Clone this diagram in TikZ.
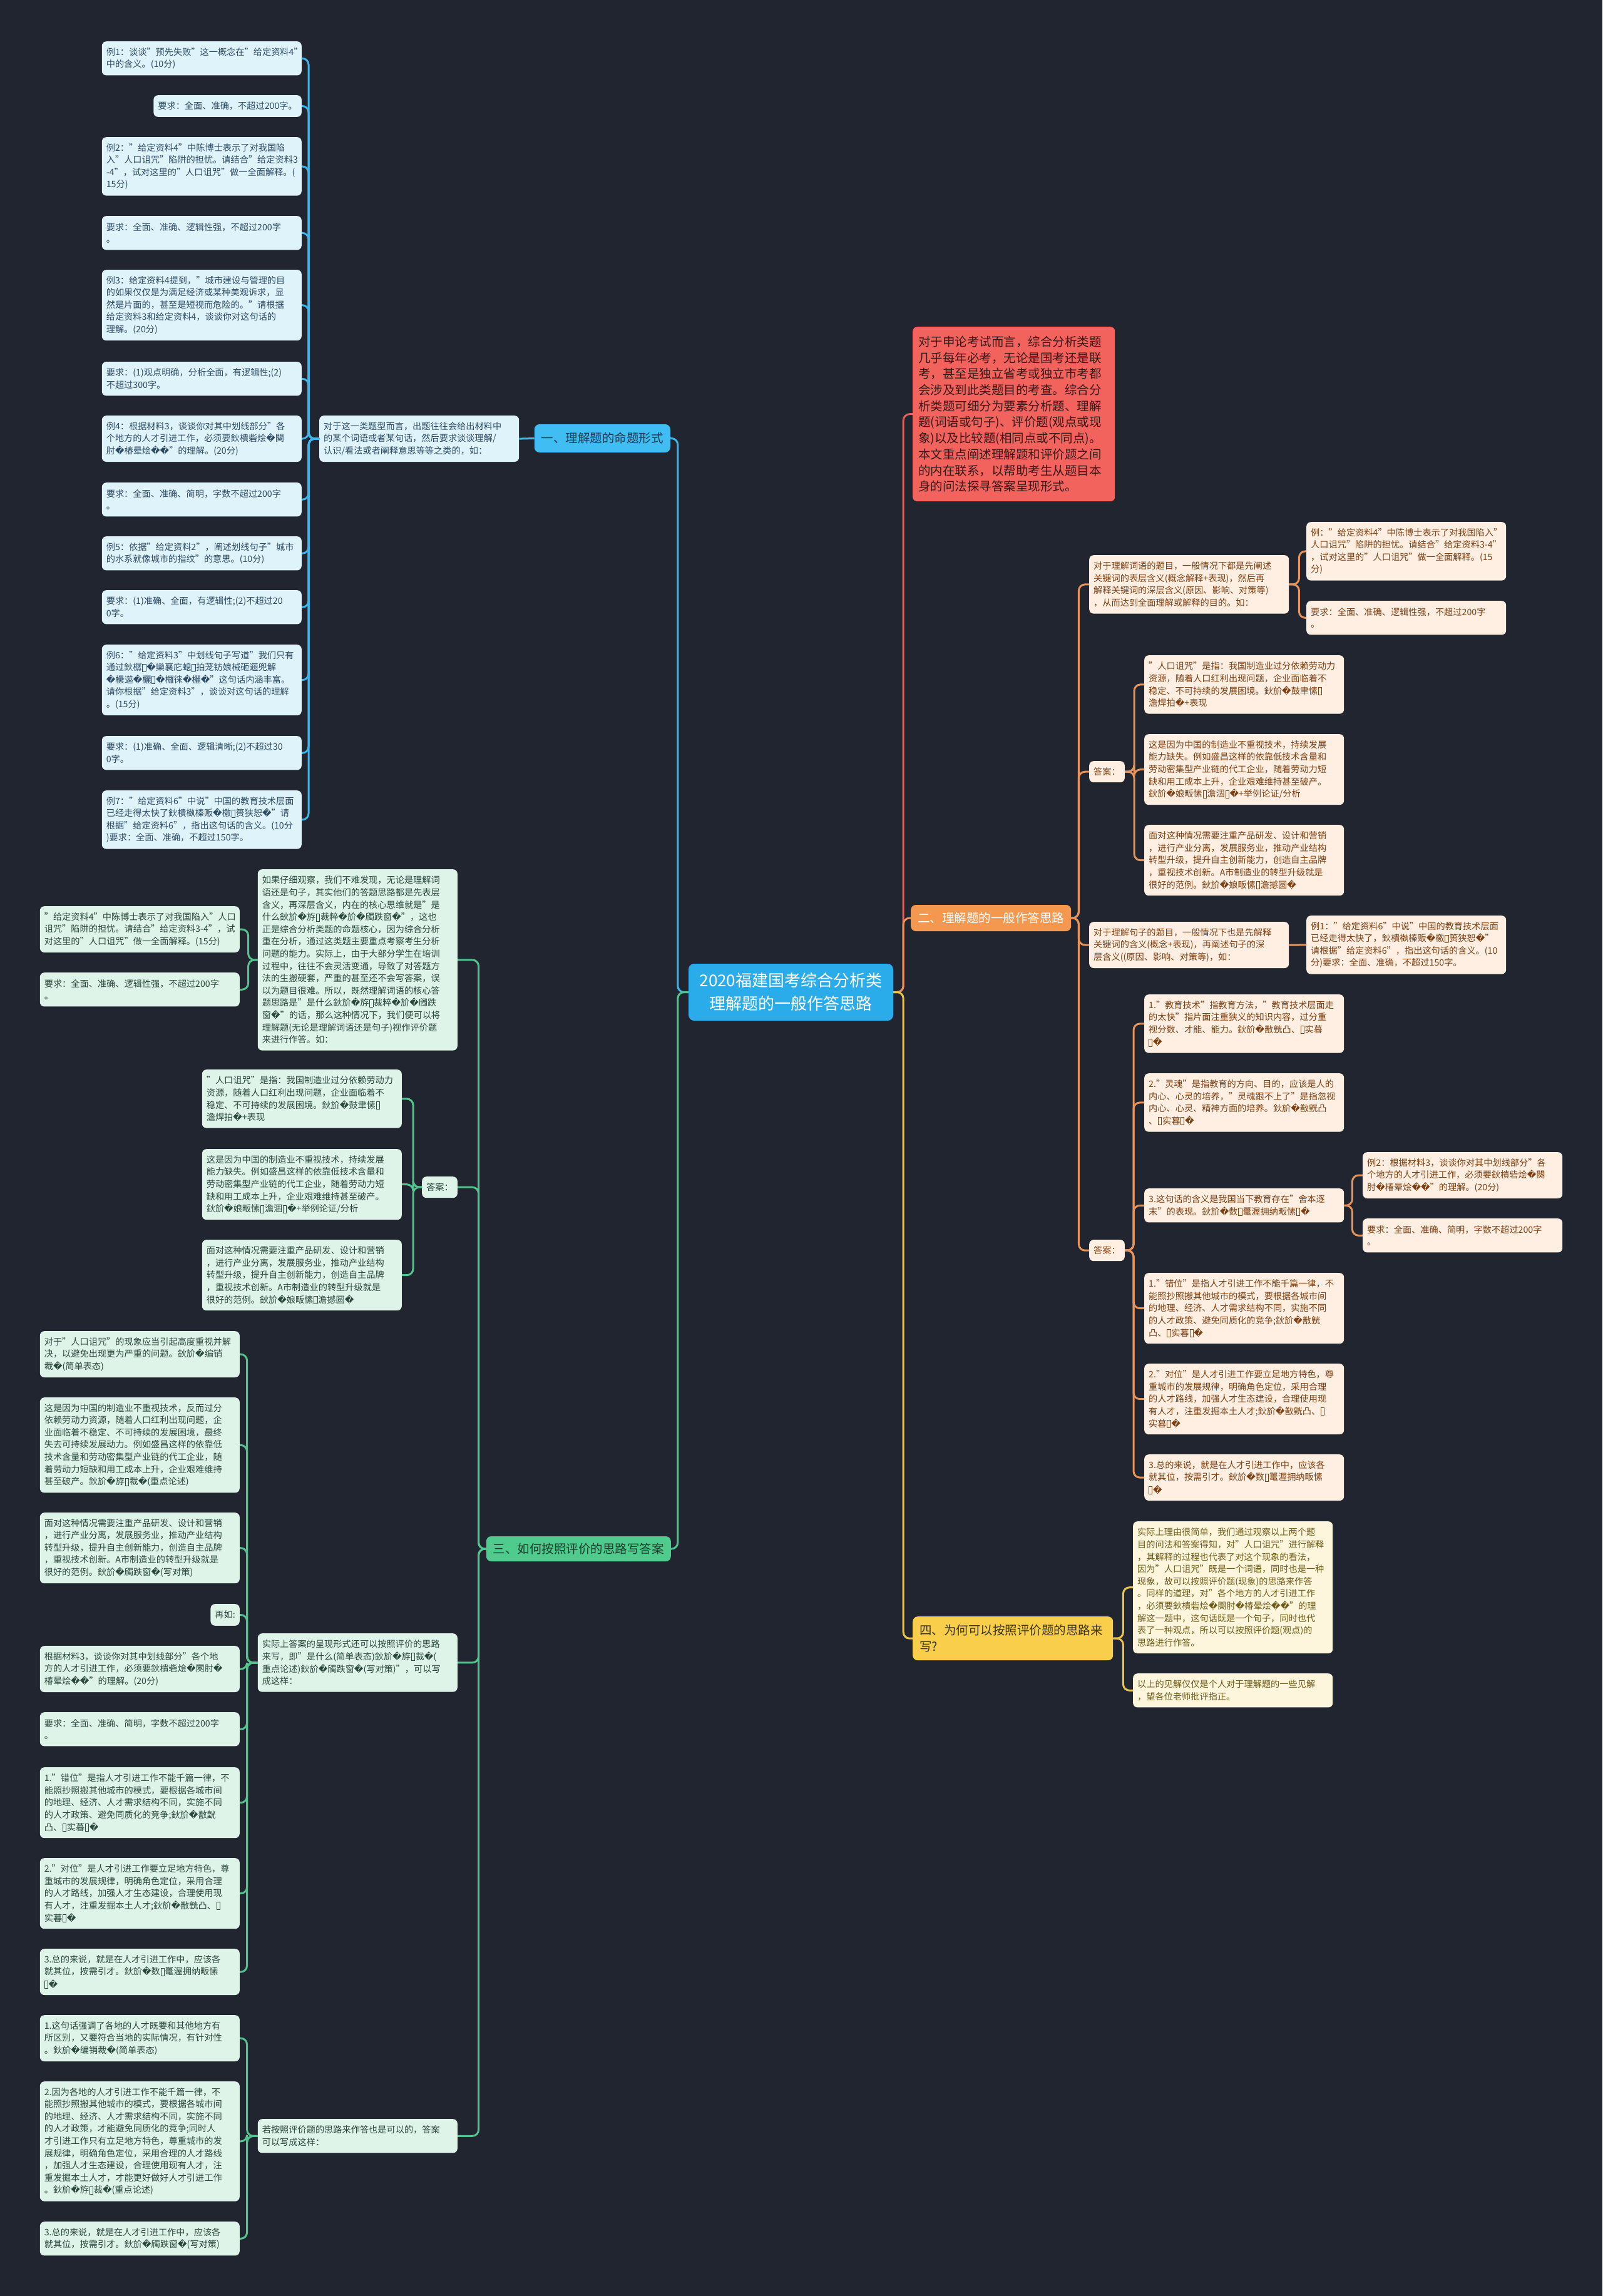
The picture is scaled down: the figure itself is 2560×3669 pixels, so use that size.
\documentclass[tikz,border=0pt]{standalone}
\usepackage{fontspec}
\setmainfont{Noto Sans CJK SC}
\newfontfamily\dejavu{DejaVu Sans}
\newcommand\rp{{\dejavu\symbol{"FFFD}}}
\newcommand\tf{\kern0.06em\raisebox{-0.06em}{\fboxsep=0pt\fboxrule=0.06em\fbox{\rule{0pt}{0.78em}\rule{0.3em}{0pt}}}\kern0.06em}
\definecolor{bg}{HTML}{21252F}
\definecolor{bleaf}{HTML}{DFF3FB}\definecolor{btext}{HTML}{2C4A63}
\definecolor{bbr}{HTML}{40BEF3}\definecolor{bbrt}{HTML}{1E3A52}
\definecolor{cfill}{HTML}{2AABEA}
\definecolor{gleaf}{HTML}{DEF4E9}\definecolor{gtext}{HTML}{29473A}
\definecolor{gbr}{HTML}{4ECB8D}\definecolor{gbrt}{HTML}{1B3D2B}
\definecolor{oleaf}{HTML}{FEEFE2}\definecolor{otext}{HTML}{7B3F12}
\definecolor{obr}{HTML}{F49850}
\definecolor{rbr}{HTML}{F3635E}\definecolor{rbrt}{HTML}{3A1717}
\definecolor{ybr}{HTML}{F8CE4A}\definecolor{ybrt}{HTML}{3A3216}
\definecolor{yleaf}{HTML}{FDF6DC}\definecolor{ytext}{HTML}{6E5B17}
\definecolor{lblue}{HTML}{3DB6EC}\definecolor{lgreen}{HTML}{52C48E}
\definecolor{lorange}{HTML}{E8935A}\definecolor{lred}{HTML}{E7605B}
\definecolor{lyellow}{HTML}{E9C64A}
\tikzset{
  base/.style={rounded corners=7pt, inner xsep=7pt, inner ysep=3pt, align=left,
    font=\fontsize{14.2}{19.6}\selectfont},
  lb/.style={base, fill=bleaf, text=btext},
  lg/.style={base, fill=gleaf, text=gtext},
  lo/.style={base, fill=oleaf, text=otext},
  ly/.style={base, fill=yleaf, text=ytext},
  tw/.style={text width=305pt},
  nl/.style={minimum height=19.6*#1+15},
  ans/.style={minimum height=34},
  brn/.style={rounded corners=8pt, inner xsep=11pt, inner ysep=3pt, minimum height=45,
    font=\fontsize{19.5}{26}\selectfont},
  cb/.style={draw=lblue, line width=3pt, rounded corners=10pt},
  cg/.style={draw=lgreen, line width=3pt, rounded corners=10pt},
  co/.style={draw=lorange, line width=3pt, rounded corners=10pt},
  cr/.style={draw=lred, line width=3pt, rounded corners=10pt},
  cy/.style={draw=lyellow, line width=3pt, rounded corners=10pt},
}
\begin{document}
\begin{tikzpicture}[x=1pt,y=-1pt]
\useasboundingbox (0,0) rectangle (2560,3669);
\fill[bg] (0,0) rectangle (2560,3669);

% ---------- center ----------
\node[fill=cfill, text=white, rounded corners=9pt, minimum width=327, minimum height=91,
  align=center, font=\fontsize{26}{37}\selectfont] (C) at (1263.5,1585.5)
  {2020福建国考综合分析类\\理解题的一般作答思路};

% ---------- branch 1 (blue, left) ----------
\node[brn, fill=bbr, text=bbrt, anchor=east] (B1) at (1071,700.5) {一、理解题的命题形式};
\node[lb, tw, nl=3, anchor=north west] (P1) at (510,664) {对于这一类题型而言，出题往往会给出材料中\\的某个词语或者某句话，然后要求谈谈理解/\\认识/看法或者阐释意思等等之类的，如：};

\node[lb, tw, nl=2, anchor=north east] (L1) at (482,66) {例1：谈谈"预先失败"这一概念在"给定资料4"\\中的含义。(10分)};
\node[lb, nl=1, anchor=north east] (L2) at (482,152) {要求：全面、准确，不超过200字。};
\node[lb, tw, nl=4, anchor=north east] (L3) at (482,219) {例2："给定资料4"中陈博士表示了对我国陷\\入"人口诅咒"陷阱的担忧。请结合"给定资料3\\-4"，试对这里的"人口诅咒"做一全面解释。(\\15分)};
\node[lb, tw, nl=2, anchor=north east] (L4) at (482,345) {要求：全面、准确、逻辑性强，不超过200字\\。};
\node[lb, tw, nl=5, anchor=north east] (L5) at (482,431) {例3：给定资料4提到，"城市建设与管理的目\\的如果仅仅是为满足经济或某种美观诉求，显\\然是片面的，甚至是短视而危险的。"请根据\\给定资料3和给定资料4，谈谈你对这句话的\\理解。(20分)};
\node[lb, tw, nl=2, anchor=north east] (L6) at (482,578) {要求：(1)观点明确，分析全面，有逻辑性;(2)\\不超过300字。};
\node[lb, tw, nl=3, anchor=north east] (L7) at (482,664) {例4：根据材料3，谈谈你对其中划线部分"各\\个地方的人才引进工作，必须要鈥樻砦烩\rp 闋\\肘\rp 椿晕烩\rp\rp "的理解。(20分)};
\node[lb, tw, nl=2, anchor=north east] (L8) at (482,771) {要求：全面、准确、简明，字数不超过200字\\。};
\node[lb, tw, nl=2, anchor=north east] (L9) at (482,857) {例5：依据"给定资料2"，阐述划线句子"城市\\的水系就像城市的指纹"的意思。(10分)};
\node[lb, tw, nl=2, anchor=north east] (L10) at (482,943) {要求：(1)准确、全面，有逻辑性;(2)不超过20\\0字。};
\node[lb, tw, nl=5, anchor=north east] (L11) at (482,1030) {例6："给定资料3"中划线句子写道"我们只有\\通过鈥樼\tf\rp 欒襄庀螅\tf 拍茏钫娘械砸逦兜解\\\rp 欙遾\rp 欐\tf\rp 欏徕\rp 欐\rp "这句话内涵丰富。\\请你根据"给定资料3"，谈谈对这句话的理解\\。(15分)};
\node[lb, tw, nl=2, anchor=north east] (L12) at (482,1176) {要求：(1)准确、全面、逻辑清晰;(2)不超过30\\0字。};
\node[lb, tw, nl=4, anchor=north east] (L13) at (482,1263) {例7："给定资料6"中说"中国的教育技术层面\\已经走得太快了鈥樻槸榛贩\rp 檄\tf 篑狭恕\rp "请\\根据"给定资料6"，指出这句话的含义。(10分\\)要求：全面、准确，不超过150字。};

% ---------- branch 3 (green, left) ----------
\node[brn, fill=gbr, text=gbrt, minimum height=40, anchor=east] (B3) at (1072,2475) {三、如何按照评价的思路写答案};

\node[lg, tw, nl=14, anchor=north east] (P2) at (731,1389) {如果仔细观察，我们不难发现，无论是理解词\\语还是句子，其实他们的答题思路都是先表层\\含义，再深层含义，内在的核心思维就是"是\\什么鈥斺\rp 斿\tf 裁粹\rp 斺\rp 斶跌窗\rp "，这也\\正是综合分析类题的命题核心，因为综合分析\\重在分析，通过这类题主要重点考察考生分析\\问题的能力。实际上，由于大部分学生在培训\\过程中，往往不会灵活变通，导致了对答题方\\法的生搬硬套，严重的甚至还不会写答案，误\\以为题目很难。所以，既然理解词语的核心答\\题思路是"是什么鈥斺\rp 斿\tf 裁粹\rp 斺\rp 斶跌\\窗\rp "的话，那么这种情况下，我们便可以将\\理解题(无论是理解词语还是句子)视作评价题\\来进行作答。如：};
\node[lg, tw, nl=3, anchor=north east] (Q1) at (383,1448) {"给定资料4"中陈博士表示了对我国陷入"人口\\诅咒"陷阱的担忧。请结合"给定资料3-4"，试\\对这里的"人口诅咒"做一全面解释。(15分)};
\node[lg, tw, nl=2, anchor=north east] (Q2) at (383,1554) {要求：全面、准确、逻辑性强，不超过200字\\。};

\node[lg, ans, anchor=north east] (AL) at (731,1880) {答案：};
\node[lg, tw, nl=4, anchor=north east] (A1) at (642,1709) {"人口诅咒"是指：我国制造业过分依赖劳动力\\资源，随着人口红利出现问题，企业面临着不\\稳定、不可持续的发展困境。鈥斺\rp 鼓聿愫\tf\\澹焊拍\rp +表现};
\node[lg, tw, nl=5, anchor=north east] (A2) at (642,1836) {这是因为中国的制造业不重视技术，持续发展\\能力缺失。例如盛昌这样的依靠低技术含量和\\劳动密集型产业链的代工企业，随着劳动力短\\缺和用工成本上升，企业艰难维持甚至破产。\\鈥斺\rp 娘畈愫\tf 澹涸\tf\rp +举例论证/分析};
\node[lg, tw, nl=5, anchor=north east] (A3) at (642,1981) {面对这种情况需要注重产品研发、设计和营销\\，进行产业分离，发展服务业，推动产业结构\\转型升级，提升自主创新能力，创造自主品牌\\，重视技术创新。A市制造业的转型升级就是\\很好的范例。鈥斺\rp 娘畈愫\tf 澹撼圆\rp};

\node[lg, tw, nl=4, anchor=north east] (P3) at (731,2610) {实际上答案的呈现形式还可以按照评价的思路\\来写，即"是什么(简单表态)鈥斺\rp 斿\tf 裁\rp (\\重点论述)鈥斺\rp 斶跌窗\rp (写对策)"，可以写\\成这样：};
\node[lg, tw, nl=3, anchor=north east] (G1) at (383,2127) {对于"人口诅咒"的现象应当引起高度重视并解\\决，以避免出现更为严重的问题。鈥斺\rp 编销\\裁\rp (简单表态)};
\node[lg, tw, nl=7, anchor=north east] (G2) at (383,2233) {这是因为中国的制造业不重视技术，反而过分\\依赖劳动力资源，随着人口红利出现问题，企\\业面临着不稳定、不可持续的发展困境，最终\\失去可持续发展动力。例如盛昌这样的依靠低\\技术含量和劳动密集型产业链的代工企业，随\\着劳动力短缺和用工成本上升，企业艰难维持\\甚至破产。鈥斺\rp 斿\tf 裁\rp (重点论述)};
\node[lg, tw, nl=5, anchor=north east] (G3) at (383,2417) {面对这种情况需要注重产品研发、设计和营销\\，进行产业分离，发展服务业，推动产业结构\\转型升级，提升自主创新能力，创造自主品牌\\，重视技术创新。A市制造业的转型升级就是\\很好的范例。鈥斺\rp 斶跌窗\rp (写对策)};
\node[lg, nl=1, anchor=north east] (G4) at (383,2563) {再如:};
\node[lg, tw, nl=3, anchor=north east] (G5) at (383,2630) {根据材料3，谈谈你对其中划线部分"各个地\\方的人才引进工作，必须要鈥樻砦烩\rp 闋肘\rp\\椿晕烩\rp\rp "的理解。(20分)};
\node[lg, tw, nl=2, anchor=north east] (G6) at (383,2736) {要求：全面、准确、简明，字数不超过200字\\。};
\node[lg, tw, nl=5, anchor=north east] (G7) at (383,2824) {1."错位"是指人才引进工作不能千篇一律，不\\能照抄照搬其他城市的模式，要根据各城市间\\的地理、经济、人才需求结构不同，实施不同\\的人才政策、避免同质化的竞争;鈥斺\rp 敾皝\\凸、\tf 实暮\tf\rp};
\node[lg, tw, nl=5, anchor=north east] (G8) at (383,2969) {2."对位"是人才引进工作要立足地方特色，尊\\重城市的发展规律，明确角色定位，采用合理\\的人才路线，加强人才生态建设，合理使用现\\有人才，注重发掘本土人才;鈥斺\rp 敾皝凸、\tf\\实暮\tf\rp};
\node[lg, tw, nl=3, anchor=north east] (G9) at (383,3114) {3.总的来说，就是在人才引进工作中，应该各\\就其位，按需引才。鈥斺\rp 数\tf 鼍渥拥纳畈愫\\\tf\rp};

\node[lg, tw, nl=2, anchor=north east] (P4) at (731,3386) {若按照评价题的思路来作答也是可以的，答案\\可以写成这样：};
\node[lg, tw, nl=3, anchor=north east] (K1) at (383,3220) {1.这句话强调了各地的人才既要和其他地方有\\所区别，又要符合当地的实际情况，有针对性\\。鈥斺\rp 编销裁\rp (简单表态)};
\node[lg, tw, nl=9, anchor=north east] (K2) at (383,3326) {2.因为各地的人才引进工作不能千篇一律，不\\能照抄照搬其他城市的模式，要根据各城市间\\的地理、经济、人才需求结构不同，实施不同\\的人才政策，才能避免同质化的竞争;同时人\\才引进工作只有立足地方特色，尊重城市的发\\展规律，明确角色定位，采用合理的人才路线\\，加强人才生态建设，合理使用现有人才，注\\重发掘本土人才，才能更好做好人才引进工作\\。鈥斺\rp 斿\tf 裁\rp (重点论述)};
\node[lg, tw, nl=2, anchor=north east] (K3) at (383,3550) {3.总的来说，就是在人才引进工作中，应该各\\就其位，按需引才。鈥斺\rp 斶跌窗\rp (写对策)};

% ---------- red ----------
\node[fill=rbr, text=rbrt, rounded corners=7pt, inner xsep=9pt, inner ysep=3pt, text width=305pt,
  minimum height=279, align=left, font=\fontsize{19.5}{25.7}\selectfont, anchor=north west] (RD) at (1458,522)
  {对于申论考试而言，综合分析类题\\几乎每年必考，无论是国考还是联\\考，甚至是独立省考或独立市考都\\会涉及到此类题目的考查。综合分\\析类题可细分为要素分析题、理解\\题(词语或句子)、评价题(观点或现\\象)以及比较题(相同点或不同点)。\\本文重点阐述理解题和评价题之间\\的内在联系，以帮助考生从题目本\\身的问法探寻答案呈现形式。};

% ---------- branch 2 (orange, right) ----------
\node[brn, fill=obr, text=white, minimum height=42, anchor=west] (B2) at (1455,1467) {二、理解题的一般作答思路};

\node[lo, tw, nl=4, anchor=north west] (R1) at (1740,887) {对于理解词语的题目，一般情况下都是先阐述\\关键词的表层含义(概念解释+表现)，然后再\\解释关键词的深层含义(原因、影响、对策等)\\，从而达到全面理解或解释的目的。如：};
\node[lo, tw, nl=4, anchor=north west] (R1a) at (2087,834) {例："给定资料4"中陈博士表示了对我国陷入"\\人口诅咒"陷阱的担忧。请结合"给定资料3-4"\\，试对这里的"人口诅咒"做一全面解释。(15\\分)};
\node[lo, tw, nl=2, anchor=north west] (R1b) at (2087,960) {要求：全面、准确、逻辑性强，不超过200字\\。};

\node[lo, ans, anchor=north west] (R2) at (1740,1216) {答案：};
\node[lo, tw, nl=4, anchor=north west] (R2a) at (1828,1047) {"人口诅咒"是指：我国制造业过分依赖劳动力\\资源，随着人口红利出现问题，企业面临着不\\稳定、不可持续的发展困境。鈥斺\rp 鼓聿愫\tf\\澹焊拍\rp +表现};
\node[lo, tw, nl=5, anchor=north west] (R2b) at (1828,1173) {这是因为中国的制造业不重视技术，持续发展\\能力缺失。例如盛昌这样的依靠低技术含量和\\劳动密集型产业链的代工企业，随着劳动力短\\缺和用工成本上升，企业艰难维持甚至破产。\\鈥斺\rp 娘畈愫\tf 澹涸\tf\rp +举例论证/分析};
\node[lo, tw, nl=5, anchor=north west] (R2c) at (1828,1318) {面对这种情况需要注重产品研发、设计和营销\\，进行产业分离，发展服务业，推动产业结构\\转型升级，提升自主创新能力，创造自主品牌\\，重视技术创新。A市制造业的转型升级就是\\很好的范例。鈥斺\rp 娘畈愫\tf 澹撼圆\rp};

\node[lo, tw, nl=3, anchor=north west] (R3) at (1740,1473) {对于理解句子的题目，一般情况下也是先解释\\关键词的含义(概念+表现)，再阐述句子的深\\层含义((原因、影响、对策等)，如：};
\node[lo, tw, nl=4, anchor=north west] (R3a) at (2087,1463) {例1："给定资料6"中说"中国的教育技术层面\\已经走得太快了，鈥樻槸榛贩\rp 檄\tf 篑狭恕\rp "\\请根据"给定资料6"，指出这句话的含义。(10\\分)要求：全面、准确，不超过150字。};

\node[lo, ans, anchor=north west] (R4) at (1740,1981) {答案：};
\node[lo, tw, nl=4, anchor=north west] (R4a) at (1828,1589) {1."教育技术"指教育方法，"教育技术层面走\\的太快"指片面注重狭义的知识内容，过分重\\视分数、才能、能力。鈥斺\rp 敾皝凸、\tf 实暮\\\tf\rp};
\node[lo, tw, nl=4, anchor=north west] (R4b) at (1828,1715) {2."灵魂"是指教育的方向、目的，应该是人的\\内心、心灵的培养，"灵魂跟不上了"是指忽视\\内心、心灵、精神方面的培养。鈥斺\rp 敾皝凸\\、\tf 实暮\tf\rp};
\node[lo, tw, nl=2, anchor=north west] (R4c) at (1828,1899) {3.这句话的含义是我国当下教育存在"舍本逐\\末"的表现。鈥斺\rp 数\tf 鼍渥拥纳畈愫\tf\rp};
\node[lo, tw, nl=3, anchor=north west] (R4c1) at (2177,1841) {例2：根据材料3，谈谈你对其中划线部分"各\\个地方的人才引进工作，必须要鈥樻砦烩\rp 闋\\肘\rp 椿晕烩\rp\rp "的理解。(20分)};
\node[lo, tw, nl=2, anchor=north west] (R4c2) at (2177,1947) {要求：全面、准确、简明，字数不超过200字\\。};
\node[lo, tw, nl=5, anchor=north west] (R4d) at (1828,2034) {1."错位"是指人才引进工作不能千篇一律，不\\能照抄照搬其他城市的模式，要根据各城市间\\的地理、经济、人才需求结构不同，实施不同\\的人才政策、避免同质化的竞争;鈥斺\rp 敾皝\\凸、\tf 实暮\tf\rp};
\node[lo, tw, nl=5, anchor=north west] (R4e) at (1828,2179) {2."对位"是人才引进工作要立足地方特色，尊\\重城市的发展规律，明确角色定位，采用合理\\的人才路线，加强人才生态建设，合理使用现\\有人才，注重发掘本土人才;鈥斺\rp 敾皝凸、\tf\\实暮\tf\rp};
\node[lo, tw, nl=3, anchor=north west] (R4f) at (1828,2324) {3.总的来说，就是在人才引进工作中，应该各\\就其位，按需引才。鈥斺\rp 数\tf 鼍渥拥纳畈愫\\\tf\rp};

% ---------- branch 4 (yellow, right) ----------
\node[brn, fill=ybr, text=ybrt, text width=298pt, align=left, minimum height=70, anchor=north west] (B4) at (1458,2583) {四、为何可以按照评价题的思路来\\写?};
\node[ly, tw, nl=10, anchor=north west] (Y1) at (1810,2431) {实际上理由很简单，我们通过观察以上两个题\\目的问法和答案得知，对"人口诅咒"进行解释\\，其解释的过程也代表了对这个现象的看法，\\因为"人口诅咒"既是一个词语，同时也是一种\\现象，故可以按照评价题(现象)的思路来作答\\。同样的道理，对"各个地方的人才引进工作\\，必须要鈥樻砦烩\rp 闋肘\rp 椿晕烩\rp\rp "的理\\解这一题中，这句话既是一个句子，同时也代\\表了一种观点，所以可以按照评价题(观点)的\\思路进行作答。};
\node[ly, tw, nl=2, anchor=north west] (Y2) at (1810,2674) {以上的见解仅仅是个人对于理解题的一些见解\\，望各位老师批评指正。};

% ---------- connectors ----------
\draw[cb] (C.west) -- ++(-17,0) |- (B1.east);
\draw[cb] (B1.west) -- (P1.east);
\foreach \n in {L1,L2,L3,L4,L5,L6,L7,L8,L9,L10,L11,L12,L13}
  \draw[cb] (P1.west) -- ++(-17,0) |- (\n.east);

\draw[cg] (C.west) -- ++(-17,0) |- (B3.east);
\foreach \n in {P2,AL,P3,P4}
  \draw[cg] (B3.west) -- ++(-12,0) |- (\n.east);
\foreach \n in {Q1,Q2}
  \draw[cg] (P2.west) -- ++(-15,0) |- (\n.east);
\foreach \n in {A1,A2,A3}
  \draw[cg] (AL.west) -- ++(-14,0) |- (\n.east);
\foreach \n in {G1,G2,G3,G4,G5,G6,G7,G8,G9}
  \draw[cg] (P3.west) -- ++(-17,0) |- (\n.east);
\foreach \n in {K1,K2,K3}
  \draw[cg] (P4.west) -- ++(-17,0) |- (\n.east);

\draw[cr] (C.east) -- ++(16,0) |- (RD.west);
\draw[co] (C.east) -- ++(16,0) |- (B2.west);
\draw[cy] (C.east) -- ++(16,0) |- (B4.west);

\foreach \n in {R1,R2,R3,R4}
  \draw[co] (B2.east) -- ++(12,0) |- (\n.west);
\foreach \n in {R1a,R1b}
  \draw[co] (R1.east) -- ++(16,0) |- (\n.west);
\foreach \n in {R2a,R2b,R2c}
  \draw[co] (R2.east) -- ++(15,0) |- (\n.west);
\draw[co] (R3.east) -- (R3a.west);
\foreach \n in {R4a,R4b,R4c,R4d,R4e,R4f}
  \draw[co] (R4.east) -- ++(14,0) |- (\n.west);
\foreach \n in {R4c1,R4c2}
  \draw[co] (R4c.east) -- ++(13,0) |- (\n.west);

\foreach \n in {Y1,Y2}
  \draw[cy] (B4.east) -- ++(16,0) |- (\n.west);
\end{tikzpicture}
\end{document}
